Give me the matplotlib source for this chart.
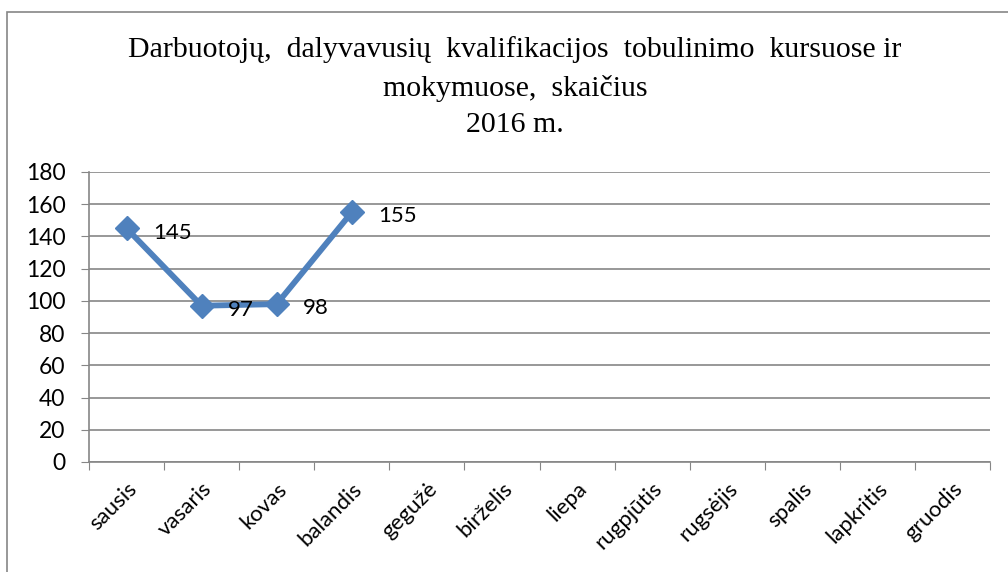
import matplotlib.pyplot as plt
import matplotlib.transforms as mtransforms
from matplotlib.patches import Rectangle

menesiai = ['sausis', 'vasaris', 'kovas', 'balandis', 'gegužė', 'birželis',
            'liepa', 'rugpjūtis', 'rugsėjis', 'spalis', 'lapkritis', 'gruodis']
darbuotojai = [145, 97, 98, 155]
y_ticks = [0, 20, 40, 60, 80, 100, 120, 140, 160, 180]
pavadinimas = ['Darbuotojų,  dalyvavusių  kvalifikacijos  tobulinimo  kursuose ir',
               'mokymuose,  skaičius',
               '2016 m.']

spalva = '#4F81BD'
pilka = '#868686'

fig = plt.figure(figsize=(10.08, 5.72), dpi=100)
ax = fig.add_axes([89 / 1008, 1 - 462 / 572, (990 - 89) / 1008, (462 - 172) / 572])

# remelis aplink visa diagrama
fig.patches.append(Rectangle((7 / 1008, -0.1), 1.2, 1 - 12 / 572 + 0.1,
                             transform=fig.transFigure, fill=False,
                             edgecolor=pilka, linewidth=1.2))

x = list(range(len(darbuotojai)))
ax.plot(x, darbuotojai, color=spalva, linewidth=4.2, marker='D',
        markersize=12, zorder=3)
for xi, yi in zip(x, darbuotojai):
    ax.annotate(str(yi), (xi, yi), xytext=(19, -3), textcoords='offset points',
                ha='left', va='center', fontsize=16, family='Lato')

ax.set_xlim(-0.5, len(menesiai) - 0.5)
ax.set_ylim(0, 180)
ax.set_yticks(y_ticks)
ax.set_yticklabels([str(v) for v in y_ticks], family='Lato', fontsize=16.5)
ax.yaxis.grid(True, color=pilka, linewidth=1.2)
ax.set_axisbelow(True)

ax.set_xticks([i + 0.5 for i in range(-1, len(menesiai))])
ax.set_xticklabels([])
ax.set_xticks(range(len(menesiai)), minor=True)
ax.set_xticklabels(menesiai, minor=True, rotation=45, ha='right',
                   rotation_mode='anchor', family='Lato', fontsize=16)
poslinkis = mtransforms.ScaledTranslation(13 / 100, 0, fig.dpi_scale_trans)
for lbl in ax.get_xticklabels(minor=True):
    lbl.set_transform(lbl.get_transform() + poslinkis)
ax.tick_params(axis='x', which='minor', length=0, pad=12)
ax.tick_params(axis='x', which='major', length=6, color=pilka)
ax.tick_params(axis='y', length=6, color=pilka, pad=11)

for s in ['top', 'right']:
    ax.spines[s].set_visible(False)
for s in ['left', 'bottom']:
    ax.spines[s].set_color(pilka)
    ax.spines[s].set_linewidth(1.2)

for eil, y in zip(pavadinimas, [50, 88, 125]):
    fig.text(515 / 1008, 1 - y / 572, eil, ha='center', va='center',
             family='Liberation Serif', fontsize=21.5)

fig.savefig('out.png', dpi=100)
